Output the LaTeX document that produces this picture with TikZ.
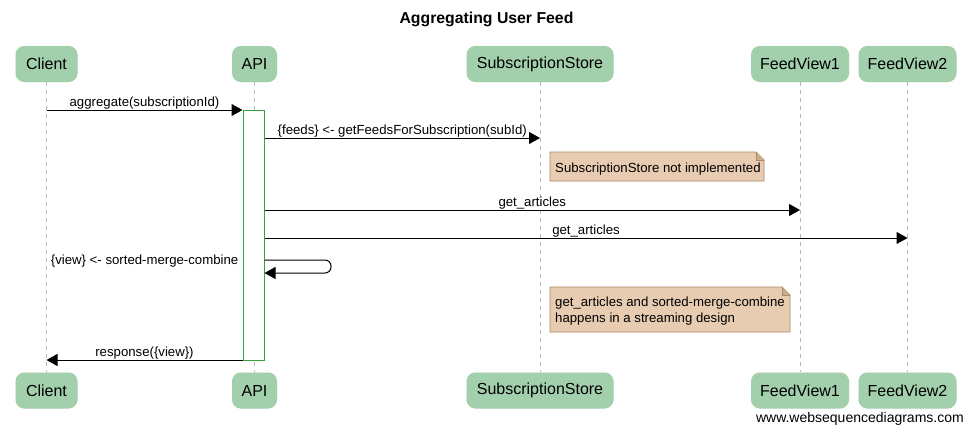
\documentclass[tikz,border=0pt]{standalone}
\usepackage{fontspec}
\setmainfont{Liberation Sans}
\usetikzlibrary{arrows.meta,calc}
\definecolor{partfill}{RGB}{162,208,172}
\definecolor{notefill}{RGB}{232,204,177}
\definecolor{notedraw}{RGB}{168,136,96}
\definecolor{actgreen}{RGB}{50,165,60}
\definecolor{lifegray}{RGB}{185,185,185}
\tikzset{
  part/.style={rounded corners=9pt, fill=partfill, draw=partfill!90!black, draw opacity=0.25, minimum height=36pt, inner sep=0pt, font=\fontsize{16}{18}\selectfont},
  life/.style={draw=lifegray, dash pattern=on 4pt off 4pt, line width=0.8pt},
  msg/.style={draw=black, line width=1pt, -{Triangle[length=11pt,width=12pt]}},
  lbl/.style={font=\fontsize{13.2}{15}\selectfont, inner sep=0.5pt, anchor=south},
  notetxt/.style={font=\fontsize{13.2}{16}\selectfont, align=left, anchor=north west, inner sep=0pt},
  actbox/.style={draw=actgreen, fill=white, line width=1pt, inner sep=0pt},
}
\begin{document}
\begin{tikzpicture}[x=1pt,y=-1pt]
\useasboundingbox (0,0) rectangle (973,434);
% title
\node[font=\bfseries\fontsize{15.8}{18}\selectfont] (title) at (486.5,19) {Aggregating User Feed};
% participants top
\node[part, minimum width=62pt] (cT) at (46.5,64) {Client};
\node[part, minimum width=45pt] (aT) at (254.5,64) {API};
\node[part, minimum width=147pt] (sT) at (540,64) {SubscriptionStore};
\node[part, minimum width=98pt] (f1T) at (800,64) {FeedView1};
\node[part, minimum width=98pt] (f2T) at (907.5,64) {FeedView2};
% participants bottom
\node[part, minimum width=62pt] (cB) at (46.5,390.5) {Client};
\node[part, minimum width=45pt] (aB) at (254.5,390.5) {API};
\node[part, minimum width=147pt] (sB) at (540,390.5) {SubscriptionStore};
\node[part, minimum width=98pt] (f1B) at (800,390.5) {FeedView1};
\node[part, minimum width=98pt] (f2B) at (907.5,390.5) {FeedView2};
% lifelines
\draw[life] (cT.south) -- (cB.north);
\draw[life] (aT.south) -- (aB.north);
\draw[life] (sT.south) -- (sB.north);
\draw[life] (f1T.south) -- (f1B.north);
\draw[life] (f2T.south) -- (f2B.north);
% activation
\node[actbox, minimum width=21pt, minimum height=250pt] (act) at (253.5,235) {};
% messages
\draw[msg] (cT.south |- 0,110) -- node[lbl] {aggregate(subscriptionId)} (act.west |- 0,110);
\draw[msg] (act.east |- 0,138) -- node[lbl] {\{feeds\} <- getFeedsForSubscription(subId)} (sT.south |- 0,138);
\draw[msg] (act.east |- 0,210) -- node[lbl] {get\_articles} (f1T.south |- 0,210);
\draw[msg] (act.east |- 0,238) -- node[lbl] {get\_articles} (f2T.south |- 0,238);
\coordinate (selfR) at (331,266);
\draw[msg, rounded corners=6pt] (act.east |- 0,260) -- (selfR |- 0,260) -- (selfR |- 0,273) -- (act.east |- 0,273);
\node[font=\fontsize{13.2}{15}\selectfont, anchor=east, inner sep=0pt] (selflbl) at ([xshift=-4pt]act.west |- 0,261) {\{view\} <- sorted-merge-combine};
\draw[msg] (act.west |- 0,360) -- node[lbl] {response(\{view\})} (cT.south |- 0,360);
% note 1
\draw[draw=notedraw, fill=notefill, line width=0.9pt] (550,152) -- (756,152) -- (764,160) -- (764,181) -- (550,181) -- cycle;
\draw[draw=notedraw, fill=notedraw!45!notefill, line width=0.6pt] (756,152) -- (756,160) -- (764,160);
\node[notetxt, anchor=west] (n1) at (555,169) {SubscriptionStore not implemented};
% note 2
\draw[draw=notedraw, fill=notefill, line width=0.9pt] (550,287) -- (782,287) -- (790,295) -- (790,332) -- (550,332) -- cycle;
\draw[draw=notedraw, fill=notedraw!45!notefill, line width=0.6pt] (782,287) -- (782,295) -- (790,295);
\node[notetxt] (n2) at (555,297) {get\_articles and sorted-merge-combine\\happens in a streaming design};
% footer
\node[font=\fontsize{14}{16}\selectfont, anchor=east, inner sep=0pt] (footer) at (964,419) {www.websequencediagrams.com};
\end{tikzpicture}
\end{document}
